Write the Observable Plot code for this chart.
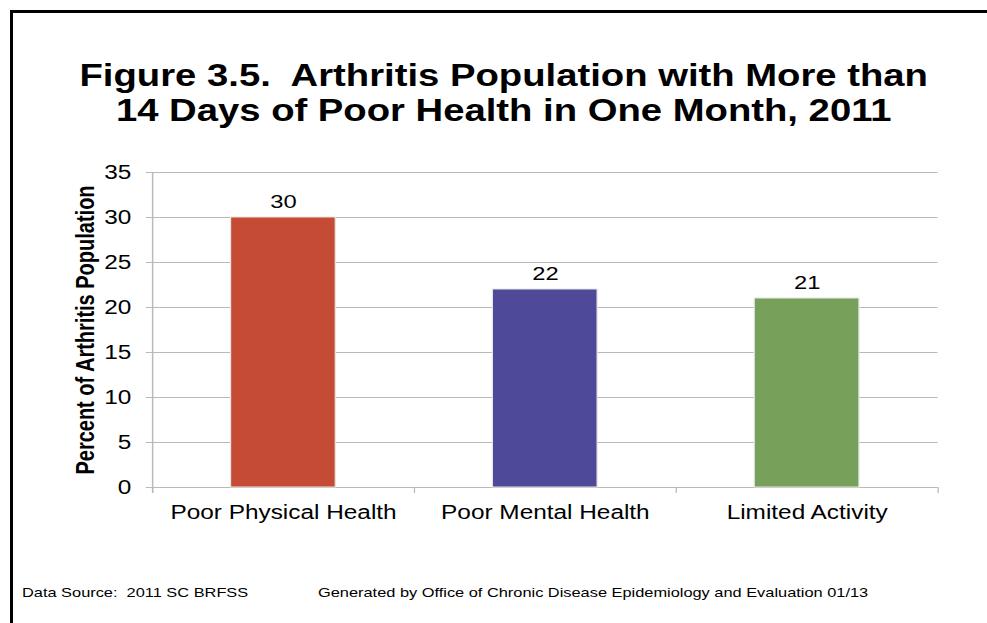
<!DOCTYPE html>
<html>
<head>
<meta charset="utf-8">
<script src="https://cdn.jsdelivr.net/npm/d3@7"></script>
<script src="https://cdn.jsdelivr.net/npm/@observablehq/plot@0.6"></script>
<style>
  html, body { margin: 0; padding: 0; background: #fff; }
  body { width: 987px; height: 623px; overflow: hidden; position: relative; font-family: "Liberation Sans", Arial, Helvetica, sans-serif; color: #000; }
  #frame { position: absolute; left: 10px; top: 10px; width: 1100px; height: 700px; border-left: 3px solid #000; border-top: 3px solid #000; box-sizing: border-box; }
  #stage { position: absolute; left: 0; top: 0; width: 790px; height: 623px; transform: scaleX(1.25); transform-origin: 0 0; }
  #title { position: absolute; left: 0; top: 58px; width: 806px; text-align: center; font-weight: bold; font-size: 30.6px; line-height: 35px; white-space: pre; }
  #chart { position: absolute; left: 0; top: 150px; }
  .foot { position: absolute; top: 584.5px; font-size: 13.1px; line-height: 16px; white-space: pre; }
</style>
</head>
<body>
<div id="frame"></div>
<div id="stage">
  <div id="title"><div>Figure 3.5.  Arthritis Population with More than</div><div>14 Days of Poor Health in One Month, 2011</div></div>
  <div id="chart"></div>
  <div class="foot" style="left:17.6px">Data Source:  2011 SC BRFSS</div>
  <div class="foot" style="left:254.4px">Generated by Office of Chronic Disease Epidemiology and Evaluation 01/13</div>
</div>
<script>
const categories = ["Poor Physical Health", "Poor Mental Health", "Limited Activity"];
const values = [30, 22, 21];
const colors = ["#c64b34", "#4e4a99", "#77a05a"];
const yTicks = [0, 5, 10, 15, 20, 25, 30, 35];
const yLabel = "Percent of Arthritis Population";

const data = categories.map((c, i) => ({category: c, index: i, value: values[i], color: colors[i]}));
const boundaries = d3.range(categories.length + 1);
const centers = d3.range(categories.length).map(i => i + 0.5);
const gray = "#b9b9b9";

const chart = Plot.plot({
  width: 790,
  height: 390,
  marginLeft: 121.6,
  marginRight: 40,
  marginTop: 22,
  marginBottom: 53,
  style: {fontFamily: '"Liberation Sans", Arial, Helvetica, sans-serif', color: "#000", background: "transparent", overflow: "visible"},
  x: {domain: [0, categories.length], axis: null},
  y: {domain: [0, 35], axis: null},
  marks: [
    Plot.gridY(yTicks, {stroke: gray, strokeOpacity: 1, strokeWidth: 1.2}),
    Plot.ruleX([0], {stroke: gray, strokeWidth: 1.2, insetBottom: -6}),
    Plot.ruleY([0], {stroke: gray, strokeWidth: 1.2}),
    Plot.axisY(yTicks, {tickSize: 5, tickPadding: 12, stroke: gray, fill: "#000", fontSize: 19.5, label: null}),
    Plot.axisX(boundaries, {tickSize: 6, stroke: gray, tickFormat: () => "", label: null}),
    Plot.axisX(centers, {tickSize: 0, tickPadding: 18, fill: "#000", fontSize: 19.5, tickFormat: v => categories[Math.floor(v)], label: null}),
    Plot.rectY(data, {x1: d => d.index + 0.3, x2: d => d.index + 0.7, y1: 0, y2: "value", fill: "color", stroke: "#e6e6e6", strokeWidth: 1}),
    Plot.text(data, {x: d => d.index + 0.5, y: "value", text: d => String(d.value), lineAnchor: "bottom", dy: -10, fontSize: 19, fill: "#000"}),
    Plot.text([yLabel], {frameAnchor: "left", textAnchor: "middle", lineAnchor: "middle", rotate: -90, dx: -53.6, fontSize: 20, fontWeight: "bold", fill: "#000"})
  ]
});
document.getElementById("chart").appendChild(chart);
</script>
</body>
</html>
